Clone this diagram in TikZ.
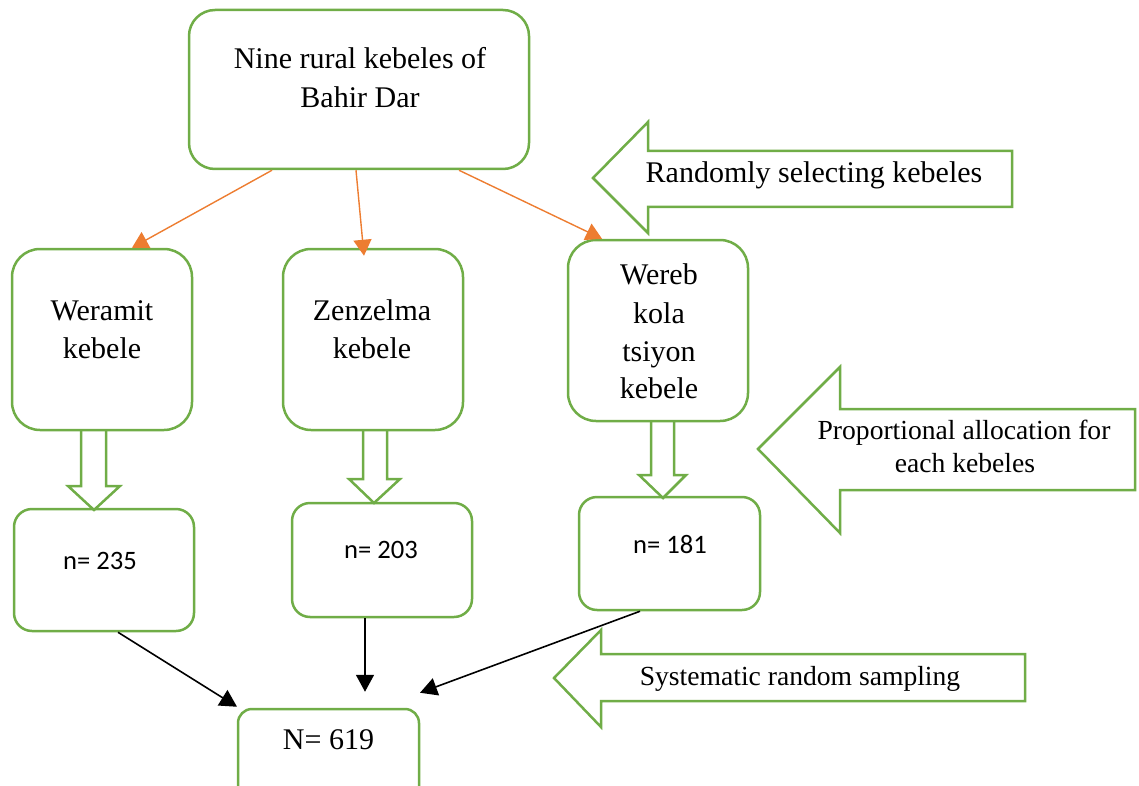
\documentclass[tikz,border=0pt]{standalone}
\usepackage{fontspec}
\setmainfont{Liberation Serif}
\newfontfamily\calibri{Carlito}
\usetikzlibrary{arrows.meta,calc}
\definecolor{grn}{HTML}{70AD47}
\definecolor{org}{HTML}{ED7D31}
\begin{document}
\begin{tikzpicture}[x=0.5pt,y=-0.5pt,
  box/.style={draw=grn, line width=1.25pt, rounded corners=#1, inner sep=0pt, fill=white},
  box/.default=14pt,
  txt/.style={anchor=base, inner sep=0pt, font=\fontsize{15}{19}\selectfont},
  stxt/.style={anchor=base, inner sep=0pt, font=\fontsize{13.8}{17}\selectfont},
  ntxt/.style={anchor=base, inner sep=0pt, font=\calibri\fontsize{13.3}{16}\selectfont},
  blk/.style={draw=grn, line width=1.25pt, line join=miter},
  oarr/.style={draw=org, line width=0.7pt, -{Triangle[length=8pt,width=9pt]}},
  karr/.style={draw=black, line width=0.8pt, -{Triangle[length=8.5pt,width=9pt]}}]
\useasboundingbox (0,0) rectangle (1139,786);
\clip (0,0) rectangle (1139,786);

% boxes
\node[box=13pt, minimum width=170pt, minimum height=79.5pt] (top) at (359,89.5) {};
\node[box, minimum width=90pt, minimum height=90.5pt] (wer) at (102,339.5) {};
\node[box, minimum width=90pt, minimum height=90.5pt] (zen) at (373,339.5) {};
\node[box, minimum width=90pt, minimum height=90.5pt] (wrb) at (658,330.5) {};
\node[box=9pt, minimum width=90pt, minimum height=61pt] (n1) at (104,570) {};
\node[box=9pt, minimum width=90pt, minimum height=57pt] (n2) at (382,560) {};
\node[box=9pt, minimum width=90.5pt, minimum height=56.5pt] (n3) at (669.5,553.5) {};
\node[box=7pt, minimum width=90.5pt, minimum height=50pt] (tot) at (328.5,759) {};

% hollow down arrows
\draw[blk] (81,430) -- (81,486) -- (68,486) -- (94,510) -- (120,486) -- (106,486) -- (106,430);
\draw[blk] (363,430) -- (363,479) -- (349,479) -- (374,503) -- (400,479) -- (387,479) -- (387,430);
\draw[blk] (651,421) -- (651,475) -- (639,475) -- (663,498) -- (686,475) -- (674,475) -- (674,421);

% left block arrows
\draw[blk, fill=white] (593,178) -- (648,122) -- (648,151) -- (1012,151) -- (1012,207) -- (648,207) -- (648,233) -- cycle;
\draw[blk, fill=white] (758,449) -- (840,367) -- (840,409) -- (1135,409) -- (1135,490) -- (840,490) -- (840,533) -- cycle;
\draw[blk, fill=white] (554,678) -- (601,630) -- (601,654) -- (1025,654) -- (1025,701) -- (601,701) -- (601,727) -- cycle;

% texts
\node[txt] (t1a) at (360,69) {Nine rural kebeles of};
\node[txt] (t1b) at (360,108) {Bahir Dar};
\node[txt] (t2a) at (102,320) {Weramit};
\node[txt] (t2b) at (102,358) {kebele};
\node[txt] (t3a) at (372,320) {Zenzelma};
\node[txt] (t3b) at (372,358) {kebele};
\node[txt] (t4a) at (659,285) {Wereb};
\node[txt] (t4b) at (659,323) {kola};
\node[txt] (t4c) at (659,361) {tsiyon};
\node[txt] (t4d) at (659,398) {kebele};
\node[ntxt] (t5) at (100,569) {n= 235};
\node[ntxt] (t6) at (381,558) {n= 203};
\node[ntxt] (t7) at (670,553) {n= 181};
\node[txt] (t8) at (328.5,749) {N= 619};
\node[txt] (r1) at (814,183) {Randomly selecting kebeles};
\node[stxt] (p1) at (964,439) {Proportional allocation for};
\node[stxt] (p2) at (965,472) {each kebeles};
\node[stxt] (s1) at (800,685) {Systematic random sampling};

% orange connectors
\draw[oarr] ($(top.south)+(-87,0)$) -- ($(wer.north)+(30,0)$);
\draw[oarr] ($(top.south)+(-3,0)$) -- ($(zen.north)+(-9,8)$);
\draw[oarr] ($(top.south)+(100,0)$) -- ($(wrb.north)+(-56,0)$);

% black connectors
\coordinate (e1) at ($(tot.north)+(-91.5,-1)$);
\coordinate (e2) at ($(tot.north)+(36.5,-16)$);
\coordinate (e3) at ($(tot.north)+(91.5,-15)$);
\draw[karr] ($(n1.south)+(14,0)$) -- (e1);
\draw[karr] ($(n2.south)+(-17,0)$) -- (e2);
\draw[karr] ($(n3.south)+(-29.5,0)$) -- (e3);
\end{tikzpicture}
\end{document}
